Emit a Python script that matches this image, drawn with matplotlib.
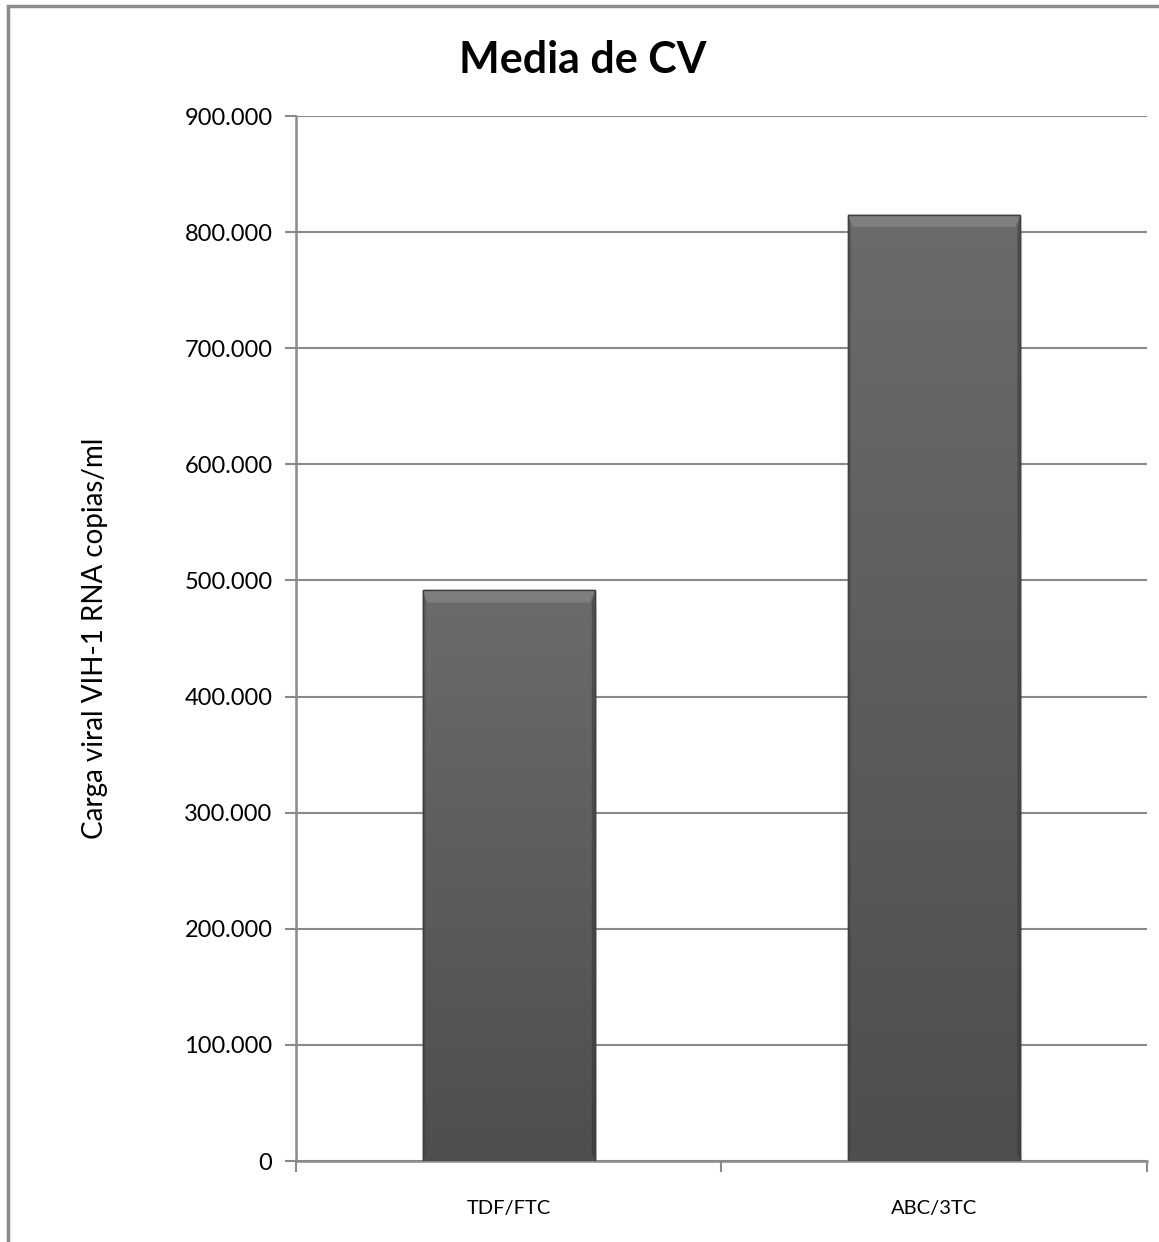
import matplotlib.pyplot as plt
import numpy as np
from matplotlib.patches import Rectangle, Polygon
from matplotlib.colors import LinearSegmentedColormap
from matplotlib.ticker import FuncFormatter

# mean viral load per regimen
regimens = ['TDF/FTC', 'ABC/3TC']
mean_cv = [491500, 815000]
y_ticks = [0, 100000, 200000, 300000, 400000, 500000, 600000, 700000, 800000, 900000]

plt.rcParams['font.family'] = ['Lato', 'DejaVu Sans']

fig = plt.figure(figsize=(11.59, 12.42), dpi=100)
ax = fig.add_axes([0.2554, 0.0652, 0.7342, 0.8414])

# outer chart frame (only top/left visible)
fig.patches.append(Rectangle((8 / 1159, -0.1), 1.2, 1 - 6 / 1242 + 0.1,
                             transform=fig.transFigure, fill=False,
                             edgecolor='#8c8c8c', linewidth=2.5, zorder=0))

grey = '#8a8a8a'
ax.set_xlim(-0.5, 1.5)
ax.set_ylim(0, 900000)
ax.set_yticks(y_ticks)
ax.yaxis.set_major_formatter(FuncFormatter(lambda v, p: f'{int(v):,}'.replace(',', '.')))
ax.grid(axis='y', color=grey, linewidth=1.5)
ax.set_axisbelow(True)

for s in ['top', 'right']:
    ax.spines[s].set_visible(False)
for s in ['left', 'bottom']:
    ax.spines[s].set_color(grey)
    ax.spines[s].set_linewidth(1.8)

ax.tick_params(axis='y', length=8, width=1.5, color=grey, labelsize=17, pad=9)
ax.set_xticks([-0.5, 0.5, 1.5])
ax.set_xticklabels(['', '', ''])
ax.tick_params(axis='x', length=8, width=1.5, color=grey, direction='out')
ax.set_xticks([0, 1], minor=True)
ax.set_xticklabels(regimens, minor=True)
ax.tick_params(axis='x', which='minor', length=0, labelsize=14.5, pad=28)

width = 0.405
grad = np.linspace(0, 1, 256).reshape(-1, 1)
cmap = LinearSegmentedColormap.from_list('barfill', ['#4e4e4e', '#6b6b6b'])
bev_x = 0.012      # bevel depth in data units (x)
bev_y = 10500      # bevel depth in data units (y)
for i, v in enumerate(mean_cv):
    x0 = i - width / 2
    x1 = x0 + width
    # soft shadow
    for k, a in enumerate([0.10, 0.07, 0.04]):
        ax.add_patch(Rectangle((x0 + 0.002 * (k + 1), -6000 * (k + 1)), width, v,
                               facecolor='black', alpha=a, edgecolor='none', zorder=2))
    bar = ax.bar(i, v, width=width, color='#5c5c5c', edgecolor='#3a3a3a',
                 linewidth=1.0, zorder=3)[0]
    im = ax.imshow(grad, cmap=cmap, extent=(x0, x1, 0, v),
                   origin='lower', aspect='auto', zorder=4)
    im.set_clip_path(bar)
    # bevel: light top, darker sides and bottom
    ax.add_patch(Polygon([(x0, v), (x1, v), (x1 - bev_x, v - bev_y), (x0 + bev_x, v - bev_y)],
                         closed=True, facecolor='#8e8e8e', edgecolor='none', alpha=0.6, zorder=5))
    ax.add_patch(Polygon([(x0, 0), (x0 + bev_x * 0.6, bev_y * 0.6), (x0 + bev_x * 0.6, v - bev_y),
                          (x0, v)], closed=True, facecolor='#3c3c3c', edgecolor='none',
                         alpha=0.35, zorder=5))
    ax.add_patch(Polygon([(x1, 0), (x1 - bev_x * 0.6, bev_y * 0.6), (x1 - bev_x * 0.6, v - bev_y),
                          (x1, v)], closed=True, facecolor='#2e2e2e', edgecolor='none',
                         alpha=0.45, zorder=5))
    ax.add_patch(Rectangle((x0, 0), width, v, fill=False, edgecolor='#404040',
                           linewidth=1.0, zorder=6))

ax.set_xlim(-0.5, 1.5)
ax.set_ylim(0, 900000)

fig.text(95 / 1159, 1 - 638 / 1242, 'Carga viral VIH-1 RNA copias/ml', rotation=90,
         ha='center', va='center', fontsize=20)
fig.text(583 / 1159, 1 - 60 / 1242, 'Media de CV', ha='center', va='center',
         fontsize=31, fontweight='bold')

fig.savefig('out.png', dpi=100)
